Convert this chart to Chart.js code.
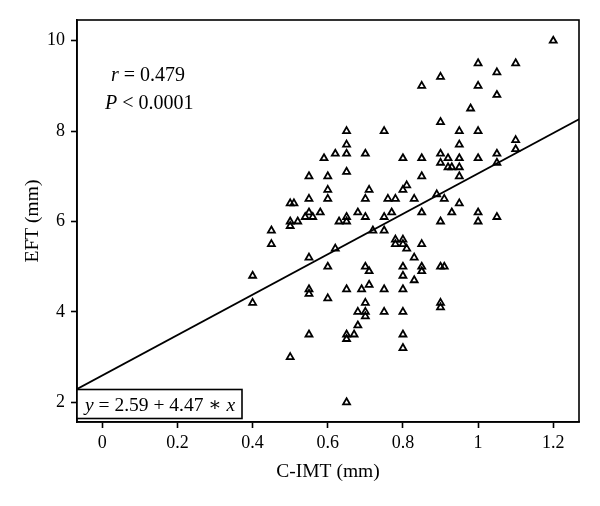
<!DOCTYPE html>
<html>
<head>
<meta charset="utf-8">
<script src="https://cdn.jsdelivr.net/npm/chart.js@4"></script>
<style>
  html, body { margin: 0; padding: 0; background: #fff; }
  #wrap { width: 600px; height: 506px; }
</style>
</head>
<body>
<div id="wrap"><canvas id="chart" width="600" height="506"></canvas></div>
<script>
const cimt = [
  1.2, 1.0, 1.1, 1.05, 0.9, 0.85, 1.0, 1.05, 0.98, 0.9,
  0.65, 0.75, 0.95, 1.0, 0.65, 0.95, 1.1, 1.1, 0.62, 0.65,
  0.7, 0.9, 1.05, 0.59, 0.8, 0.85, 0.92, 0.95, 1.0, 0.9,
  1.05, 0.92, 0.93, 0.95, 0.65, 0.55, 0.6, 0.85, 0.95, 0.81,
  0.6, 0.71, 0.8, 0.89, 0.55, 0.6, 0.7, 0.76, 0.78, 0.83,
  0.91, 0.5, 0.51, 0.95, 0.55, 0.58, 0.68, 0.77, 0.85, 0.93,
  1.0, 0.54, 0.56, 0.65, 0.7, 0.75, 1.05, 0.5, 0.52, 0.63,
  0.65, 0.9, 1.0, 0.5, 0.45, 0.72, 0.75, 0.78, 0.8, 0.78,
  0.8, 0.45, 0.85, 0.81, 0.62, 0.83, 0.55, 0.6, 0.7, 0.8,
  0.85, 0.9, 0.91, 0.71, 0.85, 0.4, 0.8, 0.83, 0.71, 0.55,
  0.65, 0.69, 0.75, 0.8, 0.55, 0.6, 0.4, 0.7, 0.9, 0.9,
  0.68, 0.7, 0.75, 0.8, 0.7, 0.68, 0.55, 0.65, 0.67, 0.8,
  0.65, 0.8, 0.5, 0.65
];
const eft = [
  10.0, 9.5, 9.5, 9.3, 9.2, 9.0, 9.0, 8.8, 8.5, 8.2,
  8.0, 8.0, 8.0, 8.0, 7.7, 7.7, 7.8, 7.6, 7.5, 7.5,
  7.5, 7.5, 7.5, 7.4, 7.4, 7.4, 7.4, 7.4, 7.4, 7.3,
  7.3, 7.2, 7.2, 7.2, 7.1, 7.0, 7.0, 7.0, 7.0, 6.8,
  6.7, 6.7, 6.7, 6.6, 6.5, 6.5, 6.5, 6.5, 6.5, 6.5,
  6.5, 6.4, 6.4, 6.4, 6.2, 6.2, 6.2, 6.2, 6.2, 6.2,
  6.2, 6.1, 6.1, 6.1, 6.1, 6.1, 6.1, 6.0, 6.0, 6.0,
  6.0, 6.0, 6.0, 5.9, 5.8, 5.8, 5.8, 5.6, 5.6, 5.5,
  5.5, 5.5, 5.5, 5.4, 5.4, 5.2, 5.2, 5.0, 5.0, 5.0,
  5.0, 5.0, 5.0, 4.9, 4.9, 4.8, 4.8, 4.7, 4.6, 4.5,
  4.5, 4.5, 4.5, 4.5, 4.4, 4.3, 4.2, 4.2, 4.2, 4.1,
  4.0, 4.0, 4.0, 4.0, 3.9, 3.7, 3.5, 3.5, 3.5, 3.5,
  3.4, 3.2, 3.0, 2.0
];
// regression line end points
const fitX = [-0.068, 1.27];
const fitY = [2.29, 8.27];

const xTicks = [0, 0.2, 0.4, 0.6, 0.8, 1, 1.2];
const yTicks = [2, 4, 6, 8, 10];

const serif = "'Liberation Serif', 'DejaVu Serif', serif";

const frame = {
  id: "frame",
  afterDraw(chart) {
    const { ctx, chartArea: a } = chart;
    ctx.save();
    ctx.strokeStyle = "#000";
    ctx.lineWidth = 1.6;
    ctx.strokeRect(a.left, a.top, a.right - a.left, a.bottom - a.top);

    const drawParts = (parts, x, y, size) => {
      parts.forEach(([txt, italic]) => {
        ctx.font = (italic ? "italic " : "") + size + "px " + serif;
        ctx.fillText(txt, x, y);
        x += ctx.measureText(txt).width;
      });
      return x;
    };
    ctx.fillStyle = "#000";
    ctx.textBaseline = "alphabetic";
    ctx.textAlign = "left";
    drawParts([["r", true], [" = 0.479", false]], 111, 81, 20);
    drawParts([["P", true], [" < 0.0001", false]], 105, 109, 20);

    // equation box
    ctx.fillStyle = "#fff";
    ctx.fillRect(a.left, 389.5, 165, 29);
    ctx.strokeRect(a.left, 389.5, 165, 29);
    ctx.fillStyle = "#000";
    drawParts([["y", true], [" = 2.59 + 4.47 \u2217 ", false], ["x", true]], 85, 411, 19.5);
    ctx.restore();
  }
};

const ctx = document.getElementById("chart");
new Chart(ctx, {
  type: "scatter",
  data: {
    datasets: [
      {
        label: "EFT",
        data: cimt.map((x, i) => ({ x, y: eft[i] })),
        pointStyle: "triangle",
        pointRadius: 4,
        pointHoverRadius: 4,
        borderColor: "#000",
        backgroundColor: "rgba(255,255,255,0)",
        borderWidth: 1.8,
      },
      {
        type: "line",
        label: "fit",
        data: fitX.map((x, i) => ({ x, y: fitY[i] })),
        borderColor: "#000",
        borderWidth: 1.8,
        pointRadius: 0,
        fill: false,
      },
    ],
  },
  options: {
    responsive: false,
    animation: false,
    layout: { padding: { top: 20, right: 21, left: 0, bottom: 0 } },
    plugins: {
      legend: { display: false },
      tooltip: { enabled: false },
    },
    scales: {
      x: {
        type: "linear",
        min: -0.0673,
        max: 1.2685,
        afterBuildTicks: (s) => { s.ticks = xTicks.map((v) => ({ value: v })); },
        afterFit: (s) => { s.height = 84; },
        ticks: {
          color: "#000",
          font: { family: serif, size: 18 },
          padding: 4,
          maxRotation: 0,
          callback: (v) => String(v),
        },
        grid: { drawOnChartArea: false, tickLength: 6, tickColor: "#000", tickWidth: 1.6 },
        border: { display: true, color: "#000", width: 1.6 },
        title: {
          display: true,
          text: "C-IMT (mm)",
          color: "#000",
          font: { family: serif, size: 19.5 },
          padding: { top: 0, bottom: 22 },
        },
      },
      y: {
        type: "linear",
        min: 1.564,
        max: 10.458,
        afterBuildTicks: (s) => { s.ticks = yTicks.map((v) => ({ value: v })); },
        afterFit: (s) => { s.width = 77; },
        ticks: {
          color: "#000",
          font: { family: serif, size: 18 },
          padding: 6,
          callback: (v) => String(v),
        },
        grid: { drawOnChartArea: false, tickLength: 6, tickColor: "#000", tickWidth: 1.6 },
        border: { display: true, color: "#000", width: 1.6 },
        title: {
          display: true,
          text: "EFT (mm)",
          color: "#000",
          font: { family: serif, size: 19.5 },
          padding: { top: 21, bottom: 0 },
        },
      },
    },
  },
  plugins: [frame],
});
</script>
</body>
</html>
